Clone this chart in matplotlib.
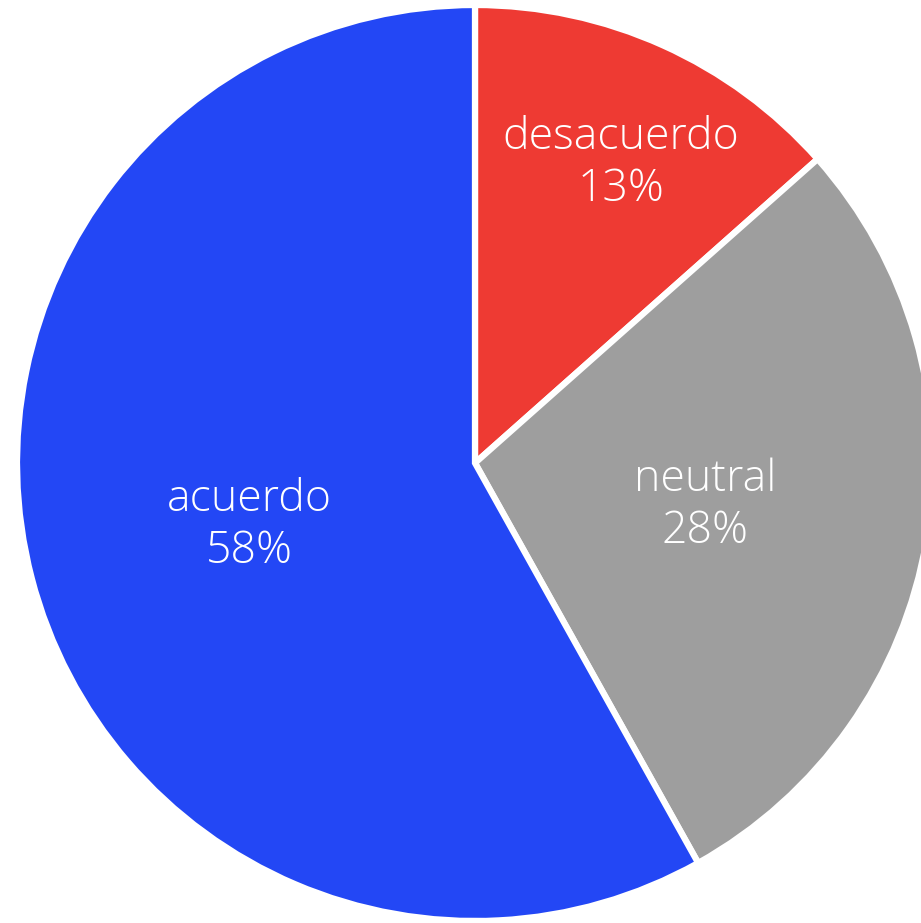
import matplotlib
matplotlib.use("Agg")
import matplotlib.pyplot as plt
import numpy as np

categories = ["desacuerdo", "neutral", "acuerdo"]
values = [13.45, 28.45, 58.1]
colors = ["#EE3A33", "#9E9E9E", "#2347F5"]
label_dist = [0.735, 0.51, 0.51]
label_angle_shift = [-1.5, 0.0, 0.0]

W, H = 921, 923
cx, cy, R = 475, 463, 458

fig = plt.figure(figsize=(W / 100, H / 100), dpi=100)
ax = fig.add_axes([0, 0, 1, 1])
ax.set_aspect("equal")
ax.axis("off")

wedges, _ = ax.pie(values, colors=colors, startangle=90, counterclock=False,
                   radius=1, center=(0, 0),
                   wedgeprops=dict(edgecolor="white", linewidth=4.5))
ax.set_xlim(-cx / R, (W - cx) / R)
ax.set_ylim(-(H - cy) / R, cy / R)

total = sum(values)
start = 90.0
for cat, v, d, sh in zip(categories, values, label_dist, label_angle_shift):
    span = v / total * 360
    mid = np.deg2rad(start - span / 2 + sh)
    start -= span
    ax.text(d * np.cos(mid), d * np.sin(mid) - 0.008, f"{cat}\n{v / total * 100:.0f}%",
            ha="center", va="center", color="white", fontsize=32,
            family=["Open Sans", "DejaVu Sans"], fontweight=300, linespacing=1.22)

fig.savefig("out.png", dpi=100)
